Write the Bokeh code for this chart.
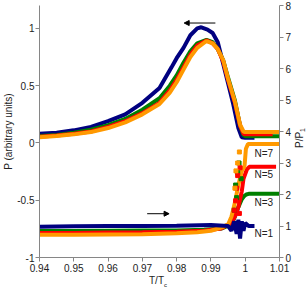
from bokeh.plotting import figure
from bokeh.models import Range1d, LinearAxis, FixedTicker, Label, Arrow, NormalHead, Div
from bokeh.layouts import column, row
from bokeh.embed import file_html
from bokeh.resources import INLINE

# ---------------- data ----------------
x_ticks = [0.94, 0.95, 0.96, 0.97, 0.98, 0.99, 1.0, 1.01]
x_tick_labels = ["0.94", "0.95", "0.96", "0.97", "0.98", "0.99", "1", "1.01"]
yl_ticks = [-1, -0.5, 0, 0.5, 1]
yl_tick_labels = ["-1", "-0.5", "0", "0.5", "1"]
yr_ticks = [0, 1, 2, 3, 4, 5, 6, 7, 8]
yr_tick_labels = ["0", "1", "2", "3", "4", "5", "6", "7", "8"]

# upper curves: P (arbitrary units), left axis
T_up_blue = [0.940, 0.945, 0.950, 0.955, 0.960, 0.965, 0.970, 0.975, 0.9785, 0.980, 0.982, 0.984,
             0.986, 0.9872, 0.989, 0.9905, 0.992, 0.9935, 0.995, 0.9965, 0.998, 0.999, 1.000, 1.0027]
P_up_blue = [0.08, 0.09, 0.11, 0.14, 0.19, 0.25, 0.35, 0.48, 0.66, 0.74, 0.83, 0.94,
             1.00, 1.01, 0.99, 0.96, 0.88, 0.70, 0.52, 0.34, 0.13, 0.05, 0.045, 0.045]

T_up = [0.940, 0.945, 0.950, 0.955, 0.960, 0.965, 0.970, 0.975, 0.978, 0.980, 0.982, 0.984,
        0.986, 0.9887, 0.9905, 0.992, 0.9936, 0.995, 0.997, 0.9985, 0.9995, 1.000]
P_up_green = [0.06, 0.07, 0.09, 0.115, 0.155, 0.21, 0.29, 0.39, 0.50, 0.59, 0.70, 0.80,
              0.87, 0.90, 0.88, 0.82, 0.72, 0.57, 0.37, 0.15, 0.07, 0.058]
P_up_red = [0.055, 0.065, 0.08, 0.10, 0.14, 0.19, 0.26, 0.35, 0.46, 0.55, 0.66, 0.77,
            0.85, 0.895, 0.87, 0.82, 0.71, 0.55, 0.35, 0.15, 0.08, 0.075]
P_up_orange = [0.05, 0.06, 0.075, 0.095, 0.13, 0.18, 0.25, 0.34, 0.44, 0.53, 0.64, 0.75,
               0.83, 0.89, 0.87, 0.82, 0.72, 0.56, 0.36, 0.16, 0.10, 0.095]
T_end_green, P_end_green = 1.010, 0.058
T_end_red, P_end_red = 1.008, 0.075
T_end_orange, P_end_orange = 1.010, 0.095

# lower curves: P/P1, right axis
T_lo_blue = [0.940, 0.950, 0.960, 0.970, 0.980, 0.990, 0.995, 0.996, 0.9968, 0.9975, 0.998,
             0.9985, 0.999, 0.9995, 1.000, 1.001, 1.0027]
R_lo_blue = [0.98, 0.99, 1.0, 1.0, 1.01, 1.03, 1.0, 0.85, 1.15, 0.75, 1.2,
             0.6, 1.15, 0.85, 1.1, 1.0, 1.0]
T_lo_green = [0.940, 0.950, 0.960, 0.970, 0.980, 0.988, 0.993, 0.996, 0.997, 0.998, 0.999,
              0.9997, 1.0003, 1.001, 1.010]
R_lo_green = [0.84, 0.84, 0.85, 0.86, 0.86, 0.88, 0.92, 1.05, 1.3, 1.6, 1.85,
              1.95, 2.0, 2.02, 2.02]
T_lo_red = [0.940, 0.950, 0.960, 0.970, 0.980, 0.988, 0.993, 0.996, 0.997, 0.998, 0.999,
            0.9995, 1.0005, 1.0012, 1.009]
R_lo_red = [0.78, 0.78, 0.79, 0.80, 0.82, 0.85, 0.92, 1.1, 1.3, 1.6, 2.1,
            2.5, 2.8, 2.88, 2.88]
T_lo_orange = [0.940, 0.950, 0.960, 0.970, 0.980, 0.986, 0.990, 0.993, 0.995, 0.996, 0.997,
               0.998, 0.999, 0.9998, 1.0002, 1.0008, 1.010]
R_lo_orange = [0.72, 0.72, 0.73, 0.74, 0.77, 0.80, 0.85, 0.95, 1.05, 1.3, 1.75,
               2.3, 2.75, 2.9, 3.45, 3.6, 3.6]

# scattered transition points
T_sc_green = [0.9968, 0.9972, 0.9975, 0.9978, 0.9982, 0.9988]
R_sc_green = [1.5, 2.3, 1.9, 2.7, 3.0, 2.5]
T_sc_red = [0.9968, 0.9972, 0.9975, 0.9978, 0.9983, 0.9985]
R_sc_red = [1.5, 1.8, 2.2, 2.6, 1.4, 2.85]
T_sc_orange = [0.997, 0.9973, 0.9978, 0.9983]
R_sc_orange = [2.2, 2.75, 3.0, 3.35]

# labels N=...
n_labels = ["N=7", "N=5", "N=3", "N=1"]
n_label_T = 1.0027
n_label_R = [3.3, 2.63, 1.75, 0.76]

# arrows
arrow_up = (0.9913, 0.9822, 1.047)   # x_start, x_end, y (left axis)
arrow_lo = (0.9714, 0.9778, 1.39)    # x_start, x_end, y (right axis)

BLUE, GREEN, RED, ORANGE = "#000080", "#008000", "#FF0000", "#FF9900"
AX = "#868686"
FONT = "Liberation Sans"
TXT = "#222222"

p = figure(width=294, height=275, output_backend="svg", toolbar_location=None,
           x_range=Range1d(0.94, 1.01), y_range=Range1d(-1, 1.2),
           min_border_left=38, min_border_right=15, min_border_top=5, min_border_bottom=18)
p.extra_y_ranges = {"r": Range1d(0, 8)}
p.outline_line_color = None
p.xgrid.grid_line_color = None
p.ygrid.grid_line_color = None
p.background_fill_color = "white"

raxis = LinearAxis(y_range_name="r")
p.add_layout(raxis, "right")


def style(ax, ticks, labels):
    ax.ticker = FixedTicker(ticks=ticks)
    ax.major_label_overrides = {t: l for t, l in zip(ticks, labels)}
    ax.axis_line_color = AX
    ax.major_tick_line_color = AX
    ax.major_tick_out = 4
    ax.major_tick_in = 0
    ax.minor_tick_line_color = None
    ax.major_label_text_font = FONT
    ax.major_label_text_font_size = "10px"
    ax.major_label_text_color = TXT
    ax.major_label_standoff = 2
    ax.axis_label_text_font = FONT
    ax.axis_label_text_font_size = "10px"
    ax.axis_label_text_font_style = "normal"
    ax.axis_label_text_color = TXT
    ax.axis_label_standoff = 0


style(p.xaxis[0], x_ticks, x_tick_labels)
style(p.yaxis[0], yl_ticks, yl_tick_labels)
style(raxis, yr_ticks, yr_tick_labels)
p.yaxis[0].axis_label = "P (arbitrary units)"
p.yaxis[0].major_label_standoff = 1

LW = 4
# upper curves
p.line(T_up_blue, P_up_blue, line_color=BLUE, line_width=LW)
p.line(T_up + [T_end_green], P_up_green + [P_end_green], line_color=GREEN, line_width=LW)
p.line(T_up + [T_end_red], P_up_red + [P_end_red], line_color=RED, line_width=LW)
p.line(T_up + [T_end_orange], P_up_orange + [P_end_orange], line_color=ORANGE, line_width=LW)

# lower curves
p.line(T_lo_green, R_lo_green, line_color=GREEN, line_width=LW, y_range_name="r")
p.line(T_lo_red, R_lo_red, line_color=RED, line_width=LW, y_range_name="r")
p.line(T_lo_orange, R_lo_orange, line_color=ORANGE, line_width=LW, y_range_name="r")
p.scatter(T_sc_green, R_sc_green, marker="square", size=4, color=GREEN, y_range_name="r")
p.scatter(T_sc_red, R_sc_red, marker="square", size=4, color=RED, y_range_name="r")
p.scatter(T_sc_orange, R_sc_orange, marker="square", size=4, color=ORANGE, y_range_name="r")
p.line(T_lo_blue, R_lo_blue, line_color=BLUE, line_width=LW, y_range_name="r")

for txt, r in zip(n_labels, n_label_R):
    p.add_layout(Label(x=n_label_T, y=r, y_range_name="r", text=txt, text_font=FONT,
                       text_font_size="10px", text_baseline="middle", text_align="left",
                       text_color=TXT))

p.add_layout(Arrow(x_start=arrow_up[0], x_end=arrow_up[1], y_start=arrow_up[2], y_end=arrow_up[2],
                   line_color="black", line_width=1,
                   end=NormalHead(size=5, fill_color="black", line_color="black")))
p.add_layout(Arrow(x_start=arrow_lo[0], x_end=arrow_lo[1], y_start=arrow_lo[2], y_end=arrow_lo[2],
                   y_range_name="r", line_color="black", line_width=1,
                   end=NormalHead(size=5, fill_color="black", line_color="black")))

xtitle = Div(text='<span style="position:relative;left:11px">T/T<sub style="font-size:6px">c</sub></span>',
             width=294, height=15, margin=(0, 0, 0, 0),
             styles={"font-family": FONT, "font-size": "10px", "text-align": "center",
                     "color": TXT, "line-height": "12px"})
rtitle = Div(text='P/P<sub style="font-size:7px">1</sub>',
             width=12, height=275, margin=(0, 0, 0, 0),
             styles={"font-family": FONT, "font-size": "10px", "text-align": "center",
                     "color": TXT, "writing-mode": "vertical-rl", "transform": "rotate(180deg)",
                     "line-height": "12px"})

layout = row(column(p, xtitle, spacing=0), rtitle, spacing=0)
open("out.html", "w").write(file_html(layout, INLINE))
